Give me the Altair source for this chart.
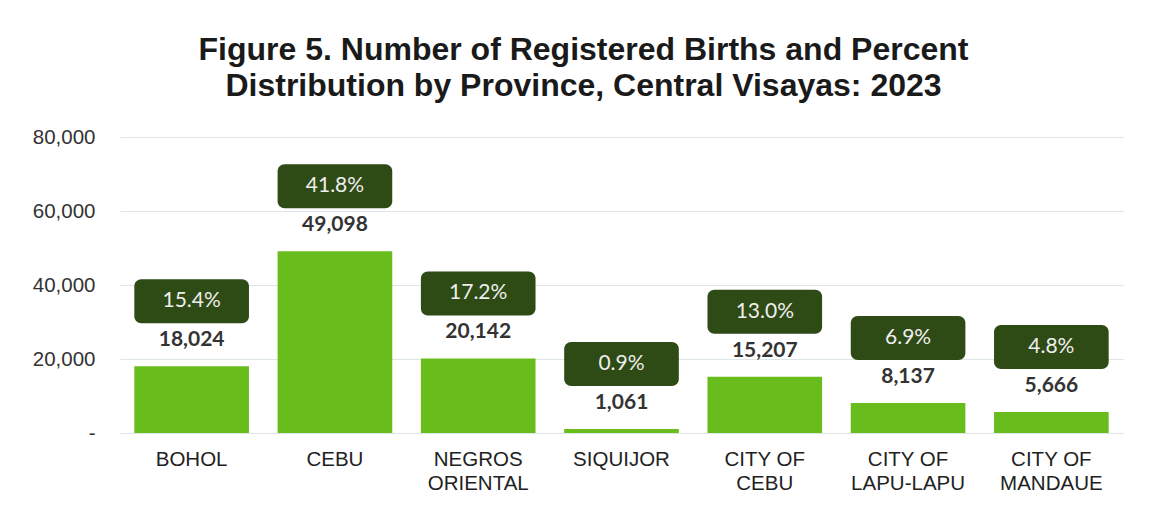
import altair as alt
import pandas as pd

provinces = ["BOHOL", "CEBU", "NEGROS|ORIENTAL", "SIQUIJOR", "CITY OF|CEBU", "CITY OF|LAPU-LAPU", "CITY OF|MANDAUE"]
births = [18024, 49098, 20142, 1061, 15207, 8137, 5666]
percents = ["15.4%", "41.8%", "17.2%", "0.9%", "13.0%", "6.9%", "4.8%"]

df = pd.DataFrame({"province": provinces, "births": births, "pct": percents})

x = alt.X("province:N", sort=provinces, title=None,
          scale=alt.Scale(paddingInner=0.2, paddingOuter=0.1),
          axis=alt.Axis(labelExpr="split(datum.label, '|')", labelAngle=0,
                        labelFont="Liberation Sans", labelFontSize=20.5, labelColor="#222222",
                        labelPadding=16, ticks=False, domain=False, labelLineHeight=24))
y = alt.Y("births:Q", title=None,
          scale=alt.Scale(domain=[0, 80000]),
          axis=alt.Axis(values=[0, 20000, 40000, 60000, 80000],
                        labelExpr="datum.value == 0 ? '-\u00a0\u00a0\u00a0' : format(datum.value, ',')",
                        labelFont="Liberation Sans", labelFontSize=20.5, labelColor="#333333",
                        labelPadding=25, ticks=False, domain=False,
                        gridColor="#dde6e6", gridWidth=1))

base = alt.Chart(df)

bars = base.mark_bar(color="#68bd1c").encode(x=x, y=y)

boxes = base.mark_rect(color="#2e4a15", cornerRadius=7, yOffset=-87, y2Offset=-43).encode(
    x=alt.X("province:N", sort=provinces), y="births:Q", y2="births:Q")

pct_text = base.mark_text(font="Lato", fontSize=21, color="#eeeeee", dy=-65).encode(
    x=alt.X("province:N", sort=provinces), y="births:Q", text="pct:N")

val_text = base.mark_text(font="Lato", fontWeight="bold", fontSize=21, color="#333333", dy=-26).encode(
    x=alt.X("province:N", sort=provinces), y="births:Q", text=alt.Text("births:Q", format=","))

chart = alt.layer(bars, boxes, pct_text, val_text).properties(
    width=1003, height=296,
    autosize=alt.AutoSizeParams(type="none"),
    padding={"left": 112, "top": 129, "right": 10, "bottom": 70},
    title=alt.TitleParams(
        ["Figure 5. Number of Registered Births and Percent",
         "Distribution by Province, Central Visayas: 2023"],
        font="Liberation Sans", fontSize=32, fontWeight="bold", color="#1a1a1a",
        anchor="middle", dx=-38, offset=24, lineHeight=36),
).configure(background="white").configure_view(stroke=None)

chart.save("out.html", embed_options={"renderer": "svg", "actions": False})
